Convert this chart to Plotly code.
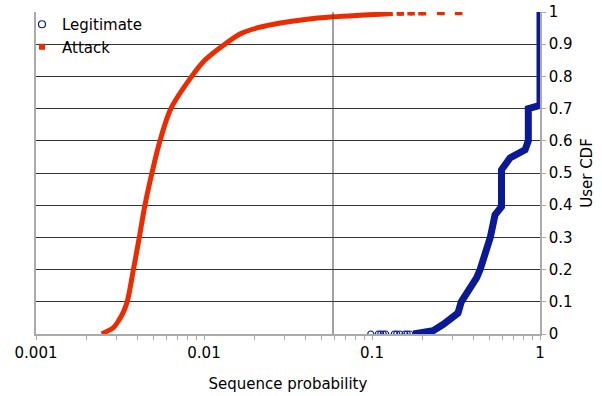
import plotly.graph_objects as go

# ---- data ----
attack_x = [0.00246, 0.00264, 0.00289, 0.00309, 0.00331, 0.00349, 0.00380, 0.00412,
            0.00445, 0.00490, 0.00547, 0.00635, 0.00845, 0.0101,
            0.0133, 0.0166, 0.0212, 0.0285, 0.0400, 0.0586, 0.085, 0.112, 0.133]
attack_y = [0.0, 0.008, 0.02, 0.04, 0.068, 0.1, 0.2, 0.3,
            0.4, 0.5, 0.6, 0.7, 0.8, 0.85,
            0.9, 0.933, 0.952, 0.966, 0.977, 0.985, 0.990, 0.993, 0.995]
attack_sparse_x = [0.145, 0.150, 0.168, 0.174, 0.195, 0.203, 0.252, 0.262, 0.322, 0.334]
attack_sparse_y = [0.996, 0.996, 0.997, 0.997, 0.997, 0.997, 0.998, 0.998, 0.998, 0.998]

legit_zero_x = [0.0983, 0.109, 0.1127, 0.1167, 0.1206, 0.1358, 0.1403, 0.1468,
                0.157, 0.162, 0.168]
legit_zero_y = [0.0] * len(legit_zero_x)
legit_x = [0.176, 0.200, 0.231, 0.266, 0.300, 0.325, 0.340, 0.373, 0.420, 0.440,
           0.506, 0.540, 0.590, 0.590, 0.663, 0.815, 0.852, 0.852, 0.977, 1.0, 1.0]
legit_y = [0.0, 0.005, 0.01, 0.03, 0.05, 0.065, 0.1, 0.13, 0.175, 0.2,
           0.3, 0.37, 0.395, 0.51, 0.547, 0.572, 0.6, 0.7, 0.71, 0.71, 1.0]

threshold_pos = 0.0586
threshold_label = "threshold = 0.05"

x_tickvals = [m * 10 ** e for e in (-3, -2, -1) for m in range(1, 10)] + [1]
x_ticktext = [("0.001" if v == 0.001 else "0.01" if v == 0.01 else "0.1" if v == 0.1 else "")
              for v in x_tickvals[:-1]] + ["1"]
y_tickvals = [i / 10 for i in range(11)]
y_ticktext = ["0", "0.1", "0.2", "0.3", "0.4", "0.5", "0.6", "0.7", "0.8", "0.9", "1"]

RED = "#EE2A00"
BLUE = "#0A1A94"
FONT = "DejaVu Sans"

fig = go.Figure()

# legend-only traces
fig.add_trace(go.Scatter(x=[None], y=[None], mode="markers", name="Legitimate",
                         marker=dict(symbol="circle-open", color=BLUE, size=7,
                                     line=dict(width=1.2, color=BLUE))))
fig.add_trace(go.Scatter(x=[None], y=[None], mode="markers", name="Attack",
                         marker=dict(symbol="square", color=RED, size=6)))

# data traces
fig.add_trace(go.Scatter(x=attack_x, y=attack_y, mode="lines", showlegend=False,
                         line=dict(color=RED, width=5, shape="spline", smoothing=0.9)))
fig.add_trace(go.Scatter(x=attack_sparse_x, y=attack_sparse_y, mode="markers", showlegend=False,
                         marker=dict(symbol="square", color=RED, size=5)))
fig.add_trace(go.Scatter(x=legit_zero_x, y=legit_zero_y, mode="markers", showlegend=False,
                         marker=dict(symbol="circle-open", color=BLUE, size=6,
                                     line=dict(width=1.2, color=BLUE))))
fig.add_trace(go.Scatter(x=legit_x, y=legit_y, mode="lines", showlegend=False,
                         line=dict(color=BLUE, width=7)))

# threshold line
fig.add_shape(type="line", xref="x", yref="paper", x0=threshold_pos, x1=threshold_pos,
              y0=0, y1=1, line=dict(color="#444444", width=1))
fig.add_annotation(x=threshold_pos, y=0.9, xref="x", yref="y", text=threshold_label,
                   showarrow=False, xanchor="left", yanchor="top", xshift=3, yshift=-4,
                   font=dict(family=FONT, size=15, color="black"))

# white box behind legend (covers gridlines only)
fig.add_shape(type="rect", xref="paper", yref="paper", x0=0.002, x1=0.222, y0=0.86, y1=1.0,
              fillcolor="white", line=dict(width=0), layer="between")

fig.update_layout(
    width=602, height=396,
    margin=dict(l=36, r=62, t=12, b=62, autoexpand=False),
    paper_bgcolor="white", plot_bgcolor="white",
    font=dict(family=FONT, size=15, color="black"),
    showlegend=True,
    legend=dict(xref="container", yref="container", x=22 / 602, y=1 - 8 / 396,
                xanchor="left", yanchor="top",
                bgcolor="rgba(0,0,0,0)", borderwidth=0,
                font=dict(family=FONT, size=15), tracegroupgap=0),
    xaxis=dict(type="log", range=[-3, 0], tickvals=x_tickvals, ticktext=x_ticktext,
               ticks="outside", ticklen=4, tickcolor="#aaaaaa", showgrid=False,
               showline=True, linecolor="#aaaaaa", linewidth=1.5, zeroline=False,
               automargin=False, tickfont=dict(family=FONT, size=15),
               title=dict(text="Sequence probability", standoff=18,
                          font=dict(family=FONT, size=15))),
    yaxis=dict(side="right", range=[0, 1], tickvals=y_tickvals, ticktext=y_ticktext,
               ticks="outside", ticklen=4, tickcolor="#aaaaaa",
               showgrid=True, gridcolor="#333333", gridwidth=1,
               showline=True, linecolor="#aaaaaa", linewidth=1.5, mirror=True,
               zeroline=False, automargin=False, ticklabeloverflow="allow",
               tickfont=dict(family=FONT, size=15),
               title=dict(text="User CDF", standoff=10, font=dict(family=FONT, size=15))),
)

fig.write_html("out.html", config={"displayModeBar": False},
               post_script="document.body.style.margin='0';")
